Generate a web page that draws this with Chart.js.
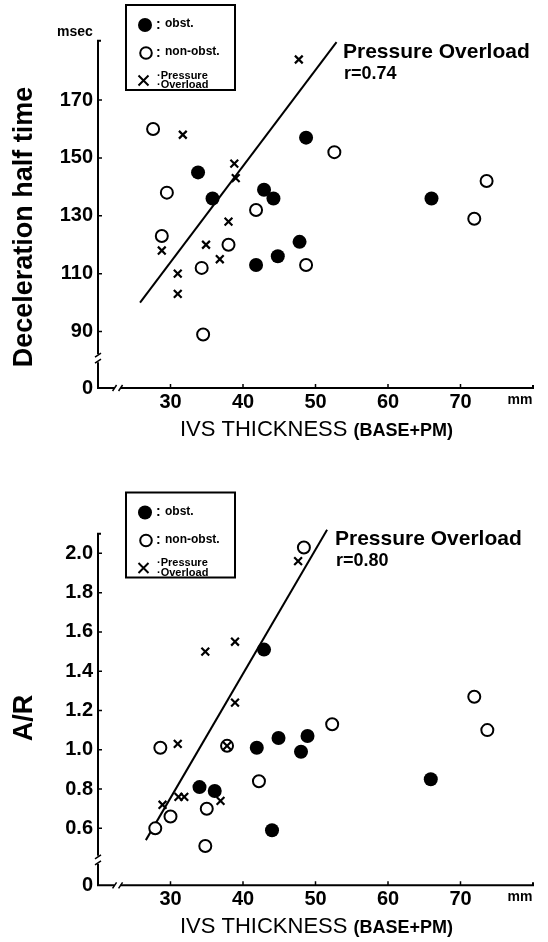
<!DOCTYPE html>
<html><head><meta charset="utf-8">
<script src="https://cdn.jsdelivr.net/npm/chart.js@4/dist/chart.umd.min.js"></script>
<style>
html,body{margin:0;padding:0;background:#fff;}
#w{position:relative;width:548px;height:942px;background:#fff;}
canvas{position:absolute;left:0;}
</style></head><body>
<div id="w">
<canvas id="c1" width="548" height="470" style="top:0"></canvas>
<canvas id="c2" width="548" height="472" style="top:470px"></canvas>
</div>
<script>
Chart.defaults.font.family = "'Liberation Sans', Arial, Helvetica, sans-serif";
Chart.defaults.color = '#000';

// ---- tick labels ----
const xTicks = [30, 40, 50, 60, 70];
const dhtTicks = [90, 110, 130, 150, 170];
const arTicks = [0.6, 0.8, 1.0, 1.2, 1.4, 1.6, 1.8, 2.0];

// ---- Deceleration half time (msec) vs IVS thickness (mm) ----
const dhtObstX = [33.8, 35.8, 42.9, 44.2, 48.7, 47.8, 44.8, 41.8, 66.0];
const dhtObstY = [145, 136, 139, 136, 157, 121, 116, 113, 136];
const dhtNonX = [27.6, 29.5, 28.8, 34.3, 34.5, 38.0, 41.8, 48.7, 52.6, 73.6, 71.9];
const dhtNonY = [160, 138, 123, 112, 89, 120, 132, 113, 152, 142, 129];
const dhtPoX = [47.7, 31.7, 38.8, 39.0, 38.0, 34.9, 36.8, 28.8, 31.0, 31.0];
const dhtPoY = [184, 158, 148, 143, 128, 120, 115, 118, 110, 103];
const dhtFitX = [25.8, 52.9];
const dhtFitY = [100, 190];

// ---- A/R vs IVS thickness (mm) ----
const arObstX = [34.0, 36.1, 42.9, 41.9, 44.9, 48.9, 48.0, 44.0, 65.9];
const arObstY = [0.81, 0.79, 1.51, 1.01, 1.06, 1.07, 0.99, 0.59, 0.85];
const arNonX = [48.4, 28.6, 30.0, 27.9, 35.0, 34.8, 42.2, 52.3, 71.9, 73.7, 37.8];
const arNonY = [2.03, 1.01, 0.66, 0.60, 0.70, 0.51, 0.84, 1.13, 1.27, 1.10, 1.02];
const arPoX = [47.6, 34.8, 38.9, 38.9, 31.0, 28.9, 31.1, 31.9, 36.9, 37.8];
const arPoY = [1.96, 1.50, 1.55, 1.24, 1.03, 0.72, 0.76, 0.76, 0.74, 1.02];
const arFitX = [26.6, 51.6];
const arFitY = [0.54, 2.12];

function pts(xs, ys) { return xs.map((x, i) => ({ x: x, y: ys[i] })); }

const FONT = "'Liberation Sans', Arial, Helvetica, sans-serif";

const deco = {
  id: 'deco',
  afterDraw(chart, args, o) {
    const ctx = chart.ctx, ca = chart.chartArea;
    const xs = chart.scales.x, ys = chart.scales.y;
    const L = ca.left, R = ca.right, T = ca.top, B = ca.bottom;
    const yb = ys.getPixelForValue(o.yBreak);
    const xb = xs.getPixelForValue(o.xBreak);
    ctx.save();
    ctx.strokeStyle = '#000'; ctx.fillStyle = '#000';
    ctx.lineWidth = 2;
    // axes with breaks
    ctx.beginPath(); ctx.moveTo(L + 3, T); ctx.lineTo(L, T); ctx.lineTo(L, yb - 4); ctx.stroke();
    ctx.beginPath(); ctx.moveTo(L, yb + 4); ctx.lineTo(L, B); ctx.lineTo(xb - 3, B); ctx.stroke();
    ctx.beginPath(); ctx.moveTo(xb + 3, B); ctx.lineTo(R, B); ctx.lineTo(R, B - 3); ctx.stroke();
    ctx.lineWidth = 1.5;
    ctx.beginPath();
    ctx.moveTo(L - 3, yb - 1); ctx.lineTo(L + 3, yb - 5);
    ctx.moveTo(L - 3, yb + 5); ctx.lineTo(L + 3, yb + 1);
    ctx.moveTo(xb - 5, B + 3); ctx.lineTo(xb - 1, B - 3);
    ctx.moveTo(xb + 1, B + 3); ctx.lineTo(xb + 5, B - 3);
    ctx.stroke();
    // inward tick marks
    ctx.beginPath();
    o.yTicks.forEach(v => { const p = ys.getPixelForValue(v); ctx.moveTo(L, p); ctx.lineTo(L + 4, p); });
    xTicks.forEach(v => { const p = xs.getPixelForValue(v); ctx.moveTo(p, B); ctx.lineTo(p, B - 4); });
    ctx.stroke();

    // y title
    ctx.save();
    ctx.translate(25, o.yTitleY);
    ctx.rotate(-Math.PI / 2);
    ctx.font = 'bold 27px ' + FONT;
    ctx.textAlign = 'center'; ctx.textBaseline = 'middle';
    ctx.fillText(o.yTitle, 0, 0);
    ctx.restore();

    // unit labels
    ctx.font = 'bold 14px ' + FONT;
    ctx.textBaseline = 'middle';
    if (o.yUnit) { ctx.textAlign = 'center'; ctx.fillText(o.yUnit, 75, T - 9); }
    ctx.textAlign = 'center';
    ctx.fillText('mm', 520, B + 12);

    // x title (mixed size)
    const t1 = 'IVS THICKNESS ', t2 = '(BASE+PM)';
    const f1 = '22px ' + FONT, f2 = 'bold 18px ' + FONT;
    ctx.font = f1; const w1 = ctx.measureText(t1).width;
    ctx.font = f2; const w2 = ctx.measureText(t2).width;
    const cx = (L + R) / 2 + 1;
    let sx = cx - (w1 + w2) / 2;
    const by = B + 48;
    ctx.textAlign = 'left'; ctx.textBaseline = 'alphabetic';
    ctx.font = f1; ctx.fillText(t1, sx, by);
    ctx.font = f2; ctx.fillText(t2, sx + w1, by);

    // annotation
    ctx.textAlign = 'left'; ctx.textBaseline = 'middle';
    ctx.font = 'bold 21px ' + FONT;
    ctx.fillText('Pressure Overload', o.annX, o.annY);
    ctx.font = 'bold 18px ' + FONT;
    ctx.fillText(o.rText, o.annX + 1, o.annY + 22);

    // legend box
    const lt = o.legTop;
    ctx.lineWidth = 2;
    ctx.strokeRect(126, lt, 109, 85);
    ctx.beginPath(); ctx.arc(145, lt + 20, 7, 0, Math.PI * 2); ctx.fill();
    ctx.lineWidth = 2;
    ctx.beginPath(); ctx.arc(146, lt + 48, 5.8, 0, Math.PI * 2); ctx.stroke();
    ctx.beginPath();
    ctx.moveTo(138.5, lt + 70.5); ctx.lineTo(148.5, lt + 80.5);
    ctx.moveTo(148.5, lt + 70.5); ctx.lineTo(138.5, lt + 80.5);
    ctx.stroke();
    ctx.font = 'bold 14px ' + FONT; ctx.textAlign = 'left'; ctx.textBaseline = 'middle';
    ctx.fillText(':', 156, lt + 20);
    ctx.fillText(':', 156, lt + 48);
    ctx.font = 'bold 12px ' + FONT;
    ctx.fillText('obst.', 165, lt + 19);
    ctx.fillText('non-obst.', 165, lt + 47);
    ctx.font = 'bold 11px ' + FONT;
    ctx.fillText('\u00b7Pressure', 157, lt + 70.5);
    ctx.fillText('\u00b7Overload', 157, lt + 80);
    ctx.restore();
  }
};

function build(id, cfg) {
  return new Chart(document.getElementById(id), {
    type: 'scatter',
    data: {
      datasets: [
        { label: 'obst.', data: pts(cfg.obX, cfg.obY), pointStyle: 'circle', pointRadius: 7, pointHoverRadius: 7,
          backgroundColor: '#000', borderColor: '#000', borderWidth: 0, order: 2 },
        { label: 'non-obst.', data: pts(cfg.nX, cfg.nY), pointStyle: 'circle', pointRadius: 6, pointHoverRadius: 6,
          backgroundColor: '#fff', borderColor: '#000', borderWidth: 2, order: 3 },
        { label: 'Pressure Overload', data: pts(cfg.pX, cfg.pY), pointStyle: 'crossRot', pointRadius: 5.5, pointHoverRadius: 5.5,
          backgroundColor: '#000', borderColor: '#000', borderWidth: 2.2, order: 1 },
        { type: 'line', label: 'fit', data: pts(cfg.fX, cfg.fY), showLine: true, pointRadius: 0,
          borderColor: '#000', borderWidth: 2, fill: false, clip: false, order: 5 }
      ]
    },
    options: {
      responsive: false, animation: false, devicePixelRatio: 1,
      layout: { padding: { left: 0, right: 548 - 533, top: cfg.top, bottom: 0 } },
      plugins: { legend: { display: false }, tooltip: { enabled: false }, deco: cfg.deco },
      scales: {
        x: {
          type: 'linear', min: 20, max: 80,
          afterBuildTicks: s => { s.ticks = xTicks.map(v => ({ value: v })); },
          afterFit: s => { s.height = cfg.xH; },
          ticks: { font: { size: 20, weight: 'bold' }, color: '#000', padding: 2, autoSkip: false, maxRotation: 0 },
          grid: { display: false, drawTicks: false }, border: { display: false }
        },
        y: {
          type: 'linear', min: cfg.yMin, max: cfg.yMax,
          afterBuildTicks: s => { s.ticks = [cfg.yMin].concat(cfg.yTicks).map(v => ({ value: v })); },
          afterFit: s => { s.width = 98; },
          ticks: { font: { size: 20, weight: 'bold' }, color: '#000', padding: 5, autoSkip: false,
            callback: v => (v === cfg.yMin ? '0' : cfg.fmt(v)) },
          grid: { display: false, drawTicks: false }, border: { display: false }
        }
      }
    },
    plugins: [deco]
  });
}

build('c1', {
  obX: dhtObstX, obY: dhtObstY, nX: dhtNonX, nY: dhtNonY, pX: dhtPoX, pY: dhtPoY, fX: dhtFitX, fY: dhtFitY,
  yMin: 70.5, yMax: 190.5, yTicks: dhtTicks, fmt: v => String(v), top: 40.7, xH: 470 - 388,
  deco: { yBreak: 80.8, xBreak: 22.7, yTicks: dhtTicks, yTitle: 'Deceleration half time', yTitleY: 227,
          yUnit: 'msec', annX: 343, annY: 52, rText: 'r=0.74', legTop: 5 }
});

build('c2', {
  obX: arObstX, obY: arObstY, nX: arNonX, nY: arNonY, pX: arPoX, pY: arPoY, fX: arFitX, fY: arFitY,
  yMin: 0.31, yMax: 2.1, yTicks: arTicks, fmt: v => v.toFixed(1), top: 533.7 - 470, xH: 472 - (885.3 - 470),
  deco: { yBreak: 0.44, xBreak: 22.7, yTicks: arTicks, yTitle: 'A/R', yTitleY: 248,
          yUnit: null, annX: 335, annY: 69, rText: 'r=0.80', legTop: 22.5 }
});
</script>
</body></html>
